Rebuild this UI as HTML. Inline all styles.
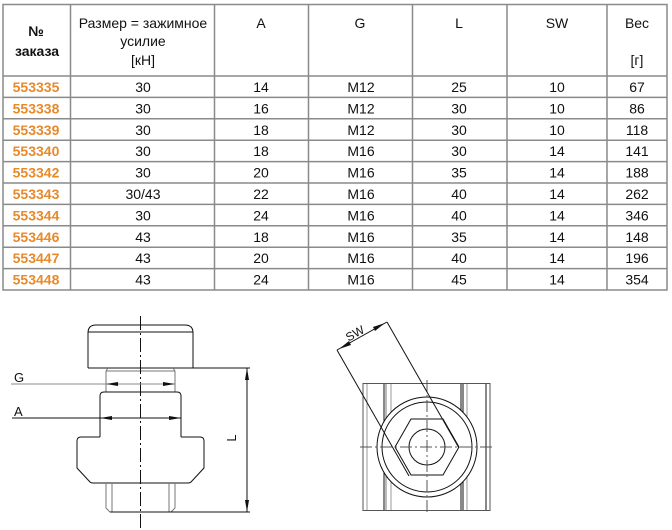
<!DOCTYPE html>
<html><head><meta charset="utf-8"><style>
html,body{margin:0;padding:0;background:#fff;}
svg{display:block;}
text{font-family:"Liberation Sans",Arial,sans-serif;font-size:14px;fill:#111;}
.o{fill:#e8892a;font-weight:bold;}
</style></head><body>
<svg width="672" height="530" viewBox="0 0 672 530" xmlns="http://www.w3.org/2000/svg">
<g stroke="#8a8a8a" stroke-width="1.5" fill="none">
<rect x="3" y="4.5" width="664" height="285.5"/>
<line x1="70.5" y1="4.5" x2="70.5" y2="290"/>
<line x1="214.5" y1="4.5" x2="214.5" y2="290"/>
<line x1="308.5" y1="4.5" x2="308.5" y2="290"/>
<line x1="412.5" y1="4.5" x2="412.5" y2="290"/>
<line x1="507" y1="4.5" x2="507" y2="290"/>
<line x1="607" y1="4.5" x2="607" y2="290"/>
<line x1="3" y1="76" x2="667" y2="76"/>
<line x1="3" y1="97.4" x2="667" y2="97.4"/>
<line x1="3" y1="118.8" x2="667" y2="118.8"/>
<line x1="3" y1="140.2" x2="667" y2="140.2"/>
<line x1="3" y1="161.6" x2="667" y2="161.6"/>
<line x1="3" y1="183" x2="667" y2="183"/>
<line x1="3" y1="204.4" x2="667" y2="204.4"/>
<line x1="3" y1="225.8" x2="667" y2="225.8"/>
<line x1="3" y1="247.2" x2="667" y2="247.2"/>
<line x1="3" y1="268.6" x2="667" y2="268.6"/>
</g>
<g text-anchor="middle">
<text x="36" y="36" font-weight="bold">№</text>
<text x="37" y="56" font-weight="bold">заказа</text>
<text x="143" y="28">Размер = зажимное</text>
<text x="143" y="46">усилие</text>
<text x="143" y="65">[кН]</text>
<text x="261" y="28">A</text>
<text x="360" y="28">G</text>
<text x="459" y="28">L</text>
<text x="557" y="28">SW</text>
<text x="637" y="28">Вес</text>
<text x="637" y="65">[г]</text>
</g>
<g text-anchor="middle">
<text class="o" x="36" y="92">553335</text><text x="143" y="92">30</text><text x="261" y="92">14</text><text x="361" y="92">M12</text><text x="459" y="92">25</text><text x="557" y="92">10</text><text x="637" y="92">67</text>
<text class="o" x="36" y="113.4">553338</text><text x="143" y="113.4">30</text><text x="261" y="113.4">16</text><text x="361" y="113.4">M12</text><text x="459" y="113.4">30</text><text x="557" y="113.4">10</text><text x="637" y="113.4">86</text>
<text class="o" x="36" y="134.8">553339</text><text x="143" y="134.8">30</text><text x="261" y="134.8">18</text><text x="361" y="134.8">M12</text><text x="459" y="134.8">30</text><text x="557" y="134.8">10</text><text x="637" y="134.8">118</text>
<text class="o" x="36" y="156.2">553340</text><text x="143" y="156.2">30</text><text x="261" y="156.2">18</text><text x="361" y="156.2">M16</text><text x="459" y="156.2">30</text><text x="557" y="156.2">14</text><text x="637" y="156.2">141</text>
<text class="o" x="36" y="177.6">553342</text><text x="143" y="177.6">30</text><text x="261" y="177.6">20</text><text x="361" y="177.6">M16</text><text x="459" y="177.6">35</text><text x="557" y="177.6">14</text><text x="637" y="177.6">188</text>
<text class="o" x="36" y="199">553343</text><text x="143" y="199">30/43</text><text x="261" y="199">22</text><text x="361" y="199">M16</text><text x="459" y="199">40</text><text x="557" y="199">14</text><text x="637" y="199">262</text>
<text class="o" x="36" y="220.4">553344</text><text x="143" y="220.4">30</text><text x="261" y="220.4">24</text><text x="361" y="220.4">M16</text><text x="459" y="220.4">40</text><text x="557" y="220.4">14</text><text x="637" y="220.4">346</text>
<text class="o" x="36" y="241.8">553446</text><text x="143" y="241.8">43</text><text x="261" y="241.8">18</text><text x="361" y="241.8">M16</text><text x="459" y="241.8">35</text><text x="557" y="241.8">14</text><text x="637" y="241.8">148</text>
<text class="o" x="36" y="263.2">553447</text><text x="143" y="263.2">43</text><text x="261" y="263.2">20</text><text x="361" y="263.2">M16</text><text x="459" y="263.2">40</text><text x="557" y="263.2">14</text><text x="637" y="263.2">196</text>
<text class="o" x="36" y="284.6">553448</text><text x="143" y="284.6">43</text><text x="261" y="284.6">24</text><text x="361" y="284.6">M16</text><text x="459" y="284.6">45</text><text x="557" y="284.6">14</text><text x="637" y="284.6">354</text>
</g>

<g stroke="#111" stroke-width="1" fill="none">
<path d="M88,368 L88,333 Q88,325 96,325 L185,325 Q193,325 193,333 L193,368"/>
<line x1="88" y1="332" x2="193" y2="332"/>
<line x1="88" y1="368" x2="250" y2="368"/>
<path d="M106,371 L108,368 M175,371 L173,368" stroke="#777"/>
<line x1="106" y1="371" x2="175" y2="371" stroke="#777"/>
<line x1="106" y1="371" x2="106" y2="392" stroke="#777"/>
<line x1="175" y1="371" x2="175" y2="392" stroke="#777"/>
<path d="M100,437 L100,396 Q100,392 104,392 L177,392 Q181,392 181,396 L181,437"/>
<path d="M100,437 L81,437 Q77,437 77,441 L77,468 L90,482 Q91,483 93,483 L188,483 Q190,483 191,482 L204,468 L204,441 Q204,437 200,437 L181,437"/>
<path d="M106,483 L106,508 L110,512 L171,512 L175,508 L175,483" stroke="#777"/>
<line x1="112" y1="483" x2="112" y2="512" stroke="#777"/>
<line x1="169" y1="483" x2="169" y2="512" stroke="#777"/>
<line x1="110" y1="512" x2="250" y2="512"/>
<line x1="140.5" y1="316" x2="140.5" y2="528" stroke-dasharray="14,3,2,3"/>
<line x1="11" y1="384" x2="175" y2="384" stroke="#888"/>
<line x1="12" y1="418" x2="181" y2="418"/>
<line x1="247" y1="368" x2="247" y2="512"/>
</g>
<g fill="#111">
<polygon points="106,384 118,382 118,386"/>
<polygon points="175,384 163,382 163,386"/>
<polygon points="100,418 112,416 112,420"/>
<polygon points="181,418 169,416 169,420"/>
<polygon points="247,368 245,380 249,380"/>
<polygon points="247,512 245,500 249,500"/>
</g>
<text x="14" y="382" fill="#222" style="font-size:13px">G</text>
<text x="14" y="416" fill="#222" style="font-size:13px">A</text>
<text x="0" y="0" transform="translate(236,438) rotate(-90)" text-anchor="middle" style="font-size:13px">L</text>

<g stroke="#111" stroke-width="1" fill="none">
<rect x="363" y="383.5" width="127" height="127" stroke="#555"/>
<line x1="367" y1="384" x2="367" y2="510" stroke="#999"/>
<line x1="384" y1="384" x2="384" y2="510"/>
<line x1="386" y1="384" x2="386" y2="510" stroke="#777"/>
<line x1="391" y1="384" x2="391" y2="510" stroke="#999"/>
<line x1="461" y1="384" x2="461" y2="510"/>
<line x1="463" y1="384" x2="463" y2="510"/>
<line x1="467" y1="384" x2="467" y2="510" stroke="#999"/>
<line x1="486" y1="384" x2="486" y2="510"/>
<circle cx="427" cy="447" r="50" fill="#fff"/>
<circle cx="427" cy="447" r="45"/>
<polygon points="395,447 411,419 443,419 459,447 443,475 411,475"/>
<circle cx="427" cy="447" r="18"/>
<line x1="360" y1="447" x2="493" y2="447" stroke-dasharray="12,3,2,3" stroke="#555"/>
<line x1="427" y1="380" x2="427" y2="513" stroke-dasharray="12,3,2,3" stroke="#555"/>
<line x1="337" y1="350" x2="409" y2="476"/>
<line x1="387" y1="322" x2="459" y2="448"/>
<line x1="337" y1="350" x2="387" y2="322"/>
</g>
<g fill="#111">
<polygon points="339,349 349,341 351,345"/>
<polygon points="385,323 373,327 375,331"/>
</g>
<text x="0" y="0" transform="translate(357,337) rotate(-29)" text-anchor="middle" style="font-size:12px">SW</text>
</svg>
</body></html>
